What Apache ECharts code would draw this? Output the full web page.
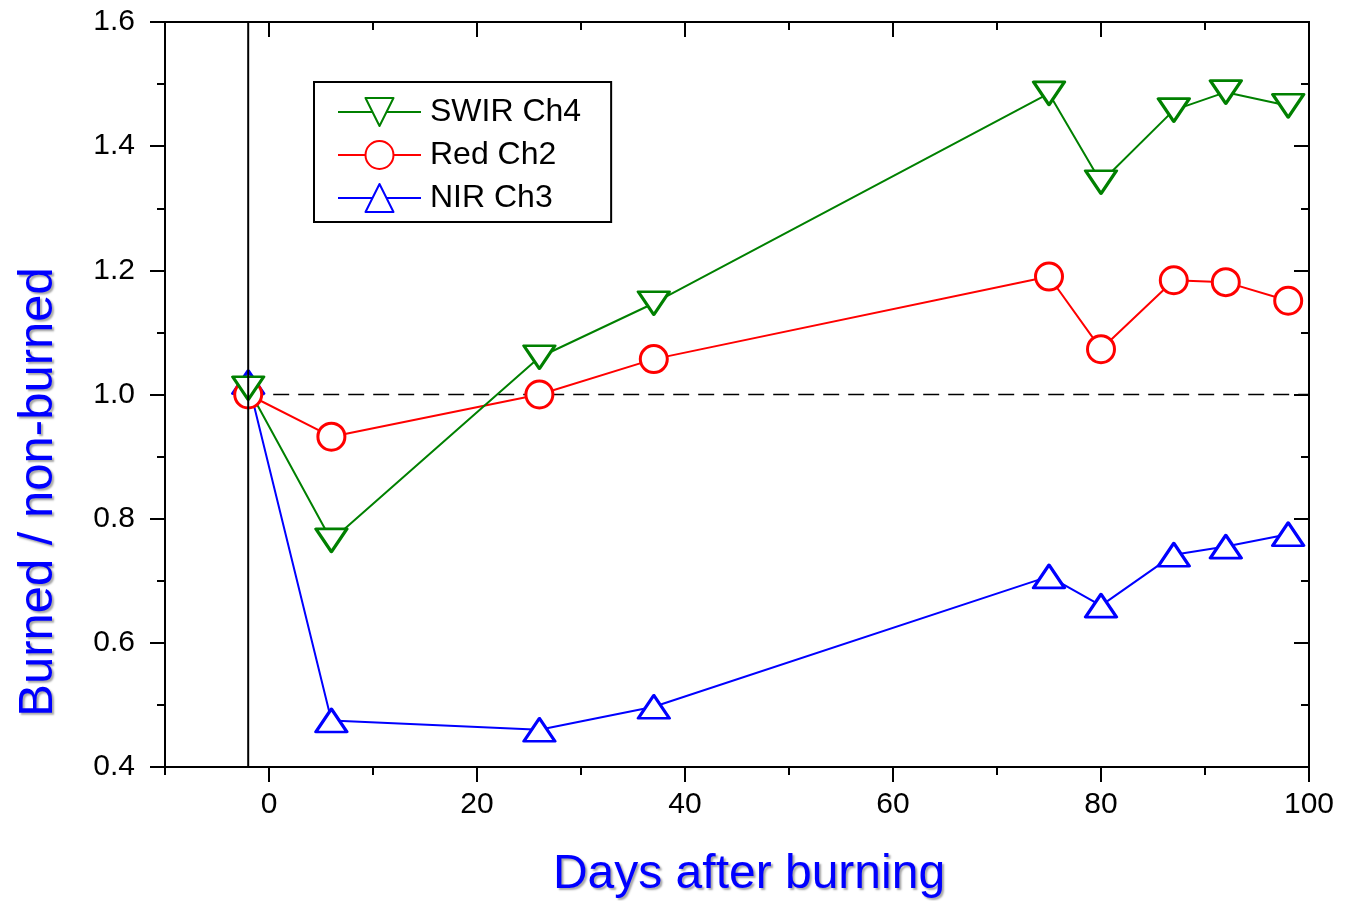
<!DOCTYPE html>
<html>
<head>
<meta charset="utf-8">
<script src="https://cdn.jsdelivr.net/npm/echarts@6/dist/echarts.min.js"></script>
<style>
html,body{margin:0;padding:0;background:#fff;}
#chart{width:1360px;height:901px;}
</style>
</head>
<body>
<div id="chart"></div>
<script>
// ---- data ----
const days = [-2, 6, 26, 37, 75, 80, 87, 92, 98];
const swirCh4 = [1.01, 0.765, 1.06, 1.147, 1.485, 1.342, 1.458, 1.487, 1.465];
const redCh2 = [1.0, 0.932, 1.0, 1.057, 1.19, 1.073, 1.184, 1.181, 1.151];
const nirCh3 = [1.02, 0.475, 0.46, 0.497, 0.707, 0.66, 0.742, 0.755, 0.775];
const xMajorTicks = [0, 20, 40, 60, 80, 100];
const xMinorTicks = [-10, 10, 30, 50, 70, 90];
const yMajorTicks = [0.4, 0.6, 0.8, 1.0, 1.2, 1.4, 1.6];
const yMinorTicks = [0.5, 0.7, 0.9, 1.1, 1.3, 1.5];
const burnDay = -2;
const refLevel = 1.0;
const xTitle = 'Days after burning';
const yTitle = 'Burned / non-burned';

const pairs = (ys) => days.map((d, i) => [d, ys[i]]);

const FONT = '"Liberation Sans", Arial, sans-serif';
const axisLineStyle = { color: '#000', width: 2 };

function xAx(pos, ticks, len, inside, labels) {
  return {
    type: 'value', min: -10, max: 100, position: pos,
    axisLine: { show: true, onZero: false, lineStyle: axisLineStyle },
    axisTick: { show: true, inside: inside, length: len, customValues: ticks, lineStyle: { color: '#000', width: 2 } },
    axisLabel: labels ? { show: true, customValues: ticks, fontSize: 30, color: '#000', fontFamily: FONT, margin: 23, formatter: v => String(v) } : { show: false },
    splitLine: { show: false }
  };
}
function yAx(pos, ticks, len, inside, labels) {
  return {
    type: 'value', min: 0.4, max: 1.6, position: pos,
    axisLine: { show: true, onZero: false, lineStyle: axisLineStyle },
    axisTick: { show: true, inside: inside, length: len, customValues: ticks, lineStyle: { color: '#000', width: 2 } },
    axisLabel: labels ? { show: true, customValues: ticks, fontSize: 30, color: '#000', fontFamily: FONT, margin: 30, formatter: v => v.toFixed(1) } : { show: false },
    splitLine: { show: false }
  };
}

function mkSeries(name, ys, color, symbol, size, rotate) {
  return {
    name: name, type: 'line', data: pairs(ys),
    symbol: symbol, symbolSize: size, symbolRotate: rotate || 0,
    showAllSymbol: true,
    color: color,
    lineStyle: { color: color, width: 2 },
    itemStyle: { color: '#fff', borderColor: color, borderWidth: 3, borderJoin: 'round' },
    emphasis: { disabled: true },
    animation: false, z: 3
  };
}

const chart = echarts.init(document.getElementById('chart'), null, { renderer: 'canvas' });
chart.setOption({
  backgroundColor: '#fff',
  animation: false,
  grid: { left: 165, right: 51, top: 22, bottom: 134, containLabel: false },
  xAxis: [
    xAx('bottom', xMajorTicks, 15, false, true),
    xAx('bottom', xMinorTicks, 8, false, false),
    xAx('top', xMajorTicks, 15, true, false),
    xAx('top', xMinorTicks, 8, true, false)
  ],
  yAxis: [
    yAx('left', yMajorTicks, 15, false, true),
    yAx('left', yMinorTicks, 8, false, false),
    yAx('right', yMajorTicks, 15, true, false),
    yAx('right', yMinorTicks, 8, true, false)
  ],
  legend: {
    data: ['SWIR Ch4', 'Red Ch2', 'NIR Ch3'],
    orient: 'vertical', left: 314, top: 82,
    padding: [14, 30, 8, 23],
    borderColor: '#000', borderWidth: 2,
    itemWidth: 83, itemHeight: 35, itemGap: 11,
    textStyle: { fontSize: 32, color: '#000', fontFamily: FONT, padding: [0, 0, 0, 4] },
    selectedMode: false
  },
  graphic: [
    { type: 'text', x: 749, y: 875, silent: true, z: 10,
      style: { text: xTitle, fill: '#0000ff', font: '48px ' + FONT, textAlign: 'center', textVerticalAlign: 'middle',
               textShadowColor: 'rgba(0,0,0,0.35)', textShadowOffsetX: 2, textShadowOffsetY: 2, textShadowBlur: 2 } },
    { type: 'text', x: 38, y: 492, rotation: Math.PI / 2, silent: true, z: 10,
      style: { text: yTitle, fill: '#0000ff', font: '49px ' + FONT, textAlign: 'center', textVerticalAlign: 'middle',
               textShadowColor: 'rgba(0,0,0,0.35)', textShadowOffsetX: 2, textShadowOffsetY: 2, textShadowBlur: 2 } }
  ],
  series: [
    {
      name: 'ref', type: 'line', data: [[burnDay, refLevel], [100, refLevel]],
      symbol: 'none', lineStyle: { color: '#000', width: 1.5, type: [16, 9] },
      silent: true, z: 1, animation: false
    },
    mkSeries('NIR Ch3', nirCh3, '#0000ff', 'triangle', [31, 23], 0),
    mkSeries('Red Ch2', redCh2, '#ff0000', 'circle', 27, 0),
    mkSeries('SWIR Ch4', swirCh4, '#008000', 'triangle', [31, 23], 180),
    {
      name: 'burn', type: 'line', data: [[burnDay, 0.4], [burnDay, 1.6]],
      symbol: 'none', lineStyle: { color: '#000', width: 2 },
      silent: true, z: 5, animation: false
    }
  ]
});
</script>
</body>
</html>
